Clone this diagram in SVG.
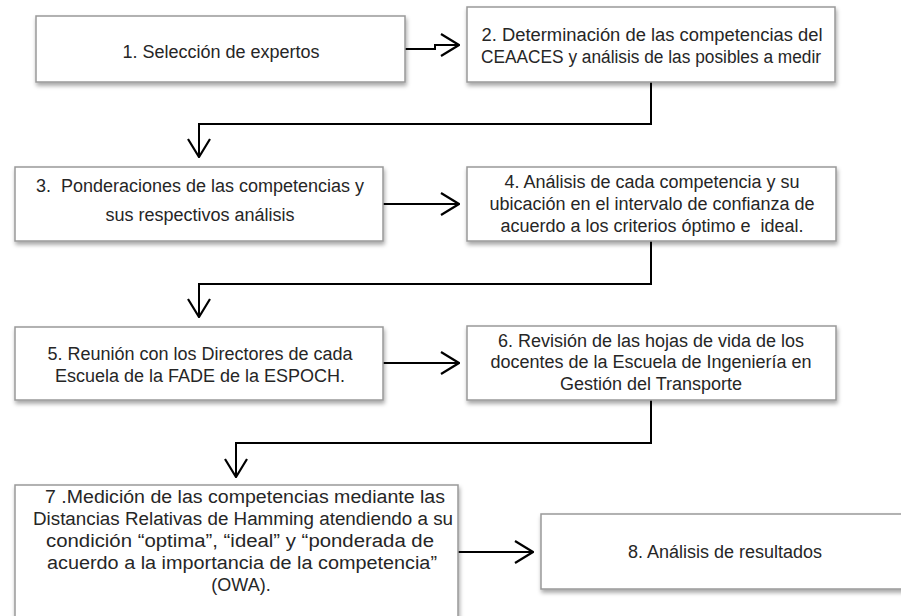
<svg xmlns="http://www.w3.org/2000/svg" width="901" height="616" viewBox="0 0 901 616">
<defs>
<filter id="sh" x="-10%" y="-20%" width="120%" height="150%">
<feDropShadow dx="1" dy="3" stdDeviation="2" flood-color="#000" flood-opacity="0.35"/>
</filter>
<marker id="ah" viewBox="0 0 20 24" refX="19" refY="12" markerWidth="20" markerHeight="24" markerUnits="userSpaceOnUse" orient="auto">
<path d="M1,1 L19,12 L1,23" fill="none" stroke="#000" stroke-width="2.2"/>
</marker>
<style>
.box{fill:#fff;stroke:#999;stroke-width:1.5;filter:url(#sh)}
.t{font-family:"Liberation Sans",Arial,sans-serif;font-size:18px;fill:#262626;text-anchor:middle;white-space:pre}
.c{fill:none;stroke:#000;stroke-width:2;marker-end:url(#ah)}
</style>
</defs>
<rect width="901" height="616" fill="#fff"/>
<g id="connectors">
<path class="c" d="M405,49 H435 V45 H459"/>
<path class="c" d="M651,82 V124 H199 V157"/>
<path class="c" d="M383,204 H459"/>
<path class="c" d="M651,241 V284 H199 V317"/>
<path class="c" d="M383,363 H459"/>
<path class="c" d="M651,400 V443 H236 V477"/>
<path class="c" d="M458,552 H533"/>
</g>
<g id="n1">
<rect class="box" x="36" y="16" width="369" height="66"/>
<text class="t" x="221" y="58">1. Selección de expertos</text>
</g>
<g id="n2">
<rect class="box" x="467" y="7" width="368" height="75"/>
<text class="t" x="652" y="41" textLength="341" lengthAdjust="spacingAndGlyphs">2. Determinación de las competencias del</text>
<text class="t" x="651" y="63" textLength="340" lengthAdjust="spacingAndGlyphs">CEAACES y análisis de las posibles a medir</text>
</g>
<g id="n3">
<rect class="box" x="15" y="167" width="368" height="74"/>
<text class="t" x="200" y="192">3.  Ponderaciones de las competencias y</text>
<text class="t" x="200" y="221">sus respectivos análisis</text>
</g>
<g id="n4">
<rect class="box" x="467" y="167" width="369" height="74"/>
<text class="t" x="652" y="188">4. Análisis de cada competencia y su</text>
<text class="t" x="652" y="210">ubicación en el intervalo de confianza de</text>
<text class="t" x="652" y="232">acuerdo a los criterios óptimo e  ideal.</text>
</g>
<g id="n5">
<rect class="box" x="15" y="327" width="368" height="73"/>
<text class="t" x="200" y="360">5. Reunión con los Directores de cada</text>
<text class="t" x="200" y="382">Escuela de la FADE de la ESPOCH.</text>
</g>
<g id="n6">
<rect class="box" x="467" y="326" width="369" height="74"/>
<text class="t" x="651" y="347">6. Revisión de las hojas de vida de los</text>
<text class="t" x="651" y="368">docentes de la Escuela de Ingeniería en</text>
<text class="t" x="651" y="390">Gestión del Transporte</text>
</g>
<g id="n7">
<rect class="box" x="15" y="485" width="443" height="145"/>
<text class="t" x="245" y="503" textLength="400" lengthAdjust="spacingAndGlyphs">7 .Medición de las competencias mediante las</text>
<text class="t" x="243" y="525" textLength="420" lengthAdjust="spacingAndGlyphs">Distancias Relativas de Hamming atendiendo a su</text>
<text class="t" x="240" y="547" textLength="388" lengthAdjust="spacingAndGlyphs">condición “optima”, “ideal” y “ponderada de</text>
<text class="t" x="242" y="569" textLength="390" lengthAdjust="spacingAndGlyphs">acuerdo a la importancia de la competencia”</text>
<text class="t" x="241" y="591">(OWA).</text>
</g>
<g id="n8">
<rect class="box" x="541" y="514" width="380" height="75"/>
<text class="t" x="725" y="558">8. Análisis de resultados</text>
</g>
</svg>
